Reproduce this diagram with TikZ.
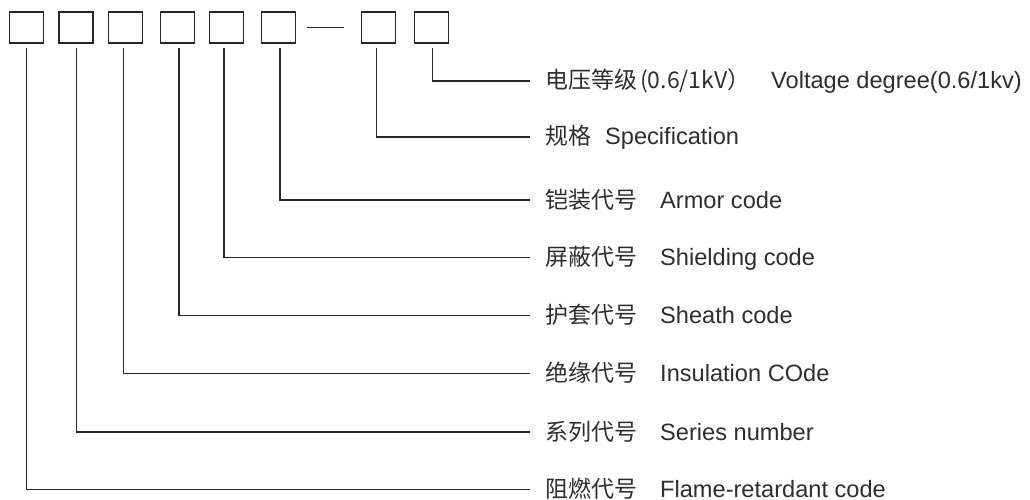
\documentclass[tikz,border=0pt]{standalone}
\usepackage{fontspec}
\setmainfont{Liberation Sans}
\newfontfamily\cjk{Noto Sans CJK SC}
\definecolor{ink}{HTML}{262626}
\definecolor{txt}{HTML}{2E2E2E}
\begin{document}
\begin{tikzpicture}[x=1pt,y=-1pt,
  codebox/.style={draw=ink,line width=1.9pt,minimum width=34pt,minimum height=31pt,inner sep=0pt,anchor=north west},
  leader/.style={draw=ink,line width=1.4pt},
  cn/.style={anchor=base west,inner sep=0pt,text=txt,font=\cjk\fontsize{23}{26}\selectfont},
  en/.style={anchor=base west,inner sep=0pt,text=txt,font=\fontsize{23.6}{27}\selectfont}]
\useasboundingbox (0,0) rectangle (1030,500);
% boxes
\node[codebox] (b1) at (8.5,11) {};
\node[codebox] (b2) at (58,11) {};
\node[codebox] (b3) at (107.5,11) {};
\node[codebox] (b4) at (159.5,11) {};
\node[codebox] (b5) at (208.5,11) {};
\node[codebox] (b6) at (260.5,11) {};
\node[codebox] (b7) at (360.5,11) {};
\node[codebox] (b8) at (413.5,11) {};
\coordinate (d1) at (307,27.5);
\coordinate (d2) at (344,27.5);
\draw[leader,line width=1.9pt] (d1) -- (d2);
% start points of leaders
\coordinate (s1) at (26.7,48);
\coordinate (s2) at (76.7,48);
\coordinate (s3) at (123.3,48);
\coordinate (s4) at (179,48);
\coordinate (s5) at (224,48);
\coordinate (s6) at (280,48);
\coordinate (s7) at (376.7,48);
\coordinate (s8) at (432.7,48);
% line ends
\coordinate (e8) at (530,81);
\coordinate (e7) at (530,137);
\coordinate (e6) at (530,200);
\coordinate (e5) at (530,257.5);
\coordinate (e4) at (530,315.5);
\coordinate (e3) at (530,373.5);
\coordinate (e2) at (530,432);
\coordinate (e1) at (530,489.5);
\foreach \i in {1,...,8}{\draw[leader] (s\i) |- (e\i);}
% labels
\node[cn] (c8) at (545,89) {电压等级\kern3pt(0.6/1kV）};
\node[en] (t8) at (771,89) {Voltage degree(0.6/1kv)};
\node[cn] (c7) at (545,145) {规格};
\node[en] (t7) at (605,145) {Specification};
\node[cn] (c6) at (545,208) {铠装代号};
\node[en] (t6) at (660,208) {Armor code};
\node[cn] (c5) at (545,265.5) {屏蔽代号};
\node[en] (t5) at (660,265.5) {Shielding code};
\node[cn] (c4) at (545,323.5) {护套代号};
\node[en] (t4) at (660,323.5) {Sheath code};
\node[cn] (c3) at (545,381.5) {绝缘代号};
\node[en] (t3) at (660,381.5) {Insulation COde};
\node[cn] (c2) at (545,440) {系列代号};
\node[en] (t2) at (660,440) {Series number};
\node[cn] (c1) at (545,497.5) {阻燃代号};
\node[en] (t1) at (660,497.5) {Flame-retardant code};
\end{tikzpicture}
\end{document}
